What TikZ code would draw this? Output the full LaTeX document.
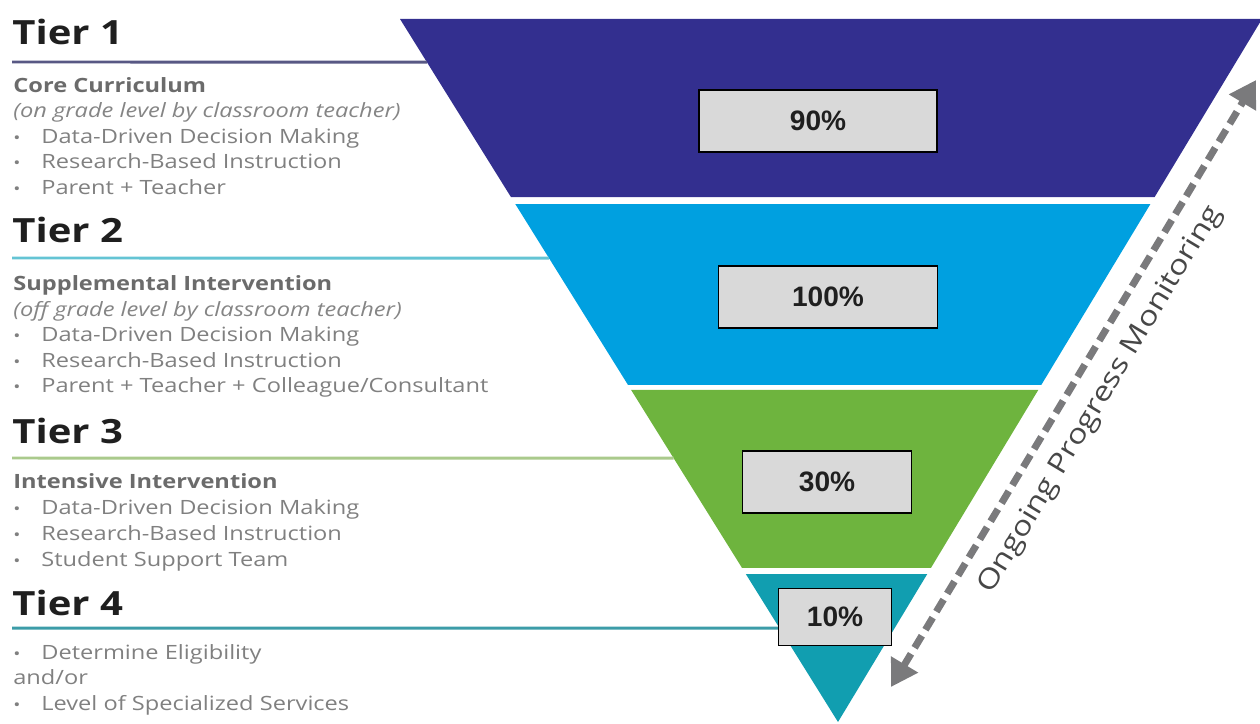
\documentclass[tikz,border=0pt]{standalone}
\usepackage{fontspec}
\setmainfont{Open Sans}
\newfontfamily\wideface[FakeStretch=1.2]{Open Sans}
\newfontfamily\boxfont{Liberation Sans}
\usetikzlibrary{calc}
\usetikzlibrary{arrows.meta}
\definecolor{tierA}{RGB}{51,47,143}
\definecolor{tierB}{RGB}{0,160,224}
\definecolor{tierC}{RGB}{110,180,62}
\definecolor{tierD}{RGB}{17,158,176}
\definecolor{lineA}{RGB}{88,88,132}
\definecolor{lineB}{RGB}{100,196,212}
\definecolor{lineC}{RGB}{170,202,140}
\definecolor{lineD}{RGB}{60,156,168}
\definecolor{boxgray}{RGB}{217,217,217}
\definecolor{arrowgray}{RGB}{122,122,124}
\tikzstyle{tiername}=[anchor=base west,inner sep=0pt,font=\wideface\fontsize{19}{22}\selectfont\bfseries,text=black!88]
\tikzstyle{heading}=[anchor=base west,inner sep=0pt,font=\wideface\fontsize{11.2}{13}\selectfont\bfseries,text=black!58]
\tikzstyle{note}=[anchor=base west,inner sep=0pt,font=\wideface\fontsize{11.2}{13}\selectfont\itshape,text=black!48]
\tikzstyle{item}=[anchor=base west,inner sep=0pt,font=\wideface\fontsize{11.2}{13}\selectfont,text=black!50]
\tikzstyle{pct}=[rectangle,draw=black,thick,fill=boxgray,font=\boxfont\fontsize{16}{18}\selectfont\bfseries,text=black!88]
\tikzstyle{tierline}=[draw,line width=1.7pt]
\tikzstyle{monitor}=[draw=arrowgray,line width=4pt,dash pattern=on 8pt off 4pt,{Triangle[length=15pt,width=17pt]}-{Triangle[length=15pt,width=17pt]}]

\begin{document}
\begin{tikzpicture}[x=0.02cm,y=-0.02cm]

  \useasboundingbox (0,0) rectangle (1260,723);

  \coordinate (TL) at (400,19);
  \coordinate (TR) at (1262,19);
  \coordinate (A) at (838,722);

  % bands of the funnel
  \foreach \a/\b/\col in {0/0.2532/tierA, 0.2632/0.5206/tierB, 0.5277/0.7809/tierC}
        \fill[\col] ($(TL)!\a!(A)$) -- ($(TR)!\a!(A)$) -- ($(TR)!\b!(A)$) -- ($(TL)!\b!(A)$) -- cycle;
  \fill[tierD] ($(TL)!0.7895!(A)$) -- ($(TR)!0.7895!(A)$) -- (A) -- cycle;

  % tier rules
  \foreach \y/\f/\col/\name in {62/0.0612/lineA/r1, 258/0.3400/lineB/r2, 458/0.6245/lineC/r3, 628/0.8663/lineD/r4} {
        \coordinate (\name) at (12,\y);
        \path[tierline,draw=\col] (\name) -- ($(TL)!\f!(A)$);
  }

  % tier names
  \foreach \y/\n in {45/1, 242/2, 443/3, 615/4}
        \node[tiername] (tier\n) at (12,\y) {Tier \n};

  \node[heading] (core) at (13,92) {Core Curriculum};
  \node[note] (coreNote) at (13,117) {(on grade level by classroom teacher)};
  \node[heading] (supp) at (13,290) {Supplemental Intervention};
  \node[note] (suppNote) at (13,316) {(off grade level by classroom teacher)};
  \node[heading] (intense) at (13,488) {Intensive Intervention};
  \node[item] (andor) at (13,684) {and/or};

  \foreach \y/\txt in {143/{Data-Driven Decision Making}, 168/{Research-Based Instruction}, 194/{Parent + Teacher},
                       341/{Data-Driven Decision Making}, 367/{Research-Based Instruction}, 392/{Parent + Teacher + Colleague/Consultant},
                       514/{Data-Driven Decision Making}, 540/{Research-Based Instruction}, 566/{Student Support Team},
                       659/{Determine Eligibility}, 710/{Level of Specialized Services}}
        \node[item] (item\y) at (13,\y) {\hbox to 0.56cm{\small\textbullet\hss}\txt};

  % percentage boxes
  \foreach \x/\y/\w/\h/\name/\label in {818/121/4.76/1.24/p90/90\%, 828/297/4.38/1.24/p100/100\%, 827/482/3.38/1.24/p30/30\%, 835/617/2.26/1.14/p10/10\%}
        \node[pct,minimum width=\w cm,minimum height=\h cm] (\name) at (\x,\y) {\label};

  % progress monitoring arrow
  \coordinate (lo) at (891,687);
  \coordinate (hi) at (1256,80);
  \path[monitor] (lo) -- node[sloped,below=0.3cm,inner sep=0pt,font=\wideface\fontsize{15.5}{18}\selectfont,text=black!72] (label) {Ongoing Progress Monitoring} (hi);

\end{tikzpicture}
\end{document}
